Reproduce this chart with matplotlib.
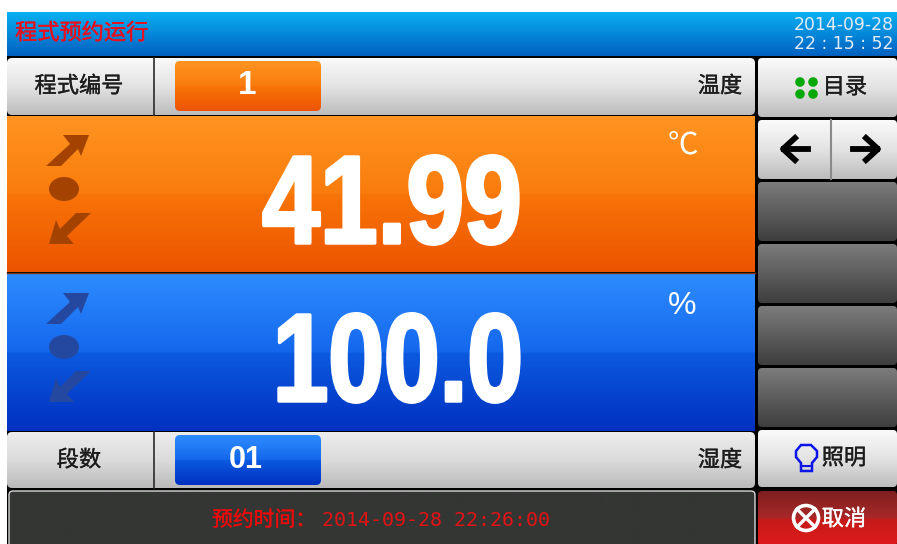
import numpy as np
import matplotlib
matplotlib.use("Agg")
import matplotlib.pyplot as plt
from matplotlib.patches import FancyBboxPatch, Polygon, Ellipse, Circle, Rectangle
from matplotlib.patheffects import AbstractPathEffect, withStroke
from matplotlib.transforms import Affine2D

# screen contents
title = "程式预约运行"
date_now = "2014-09-28"
time_now = "22 : 15 : 52"
prog_label = "程式编号"
prog_no = "1"
temp_label = "温度"
temp_value = "41.99"
temp_unit = "℃"
hum_value = "100.0"
hum_unit = "%"
step_label = "段数"
step_no = "01"
hum_label = "湿度"
book_label = "预约时间："
book_time = "2014-09-28 22:26:00"
menu_label = "目录"
light_label = "照明"
cancel_label = "取消"

cjk = ["Noto Sans CJK SC", "DejaVu Sans"]

fig = plt.figure(figsize=(8.97, 5.44), dpi=100)
ax = fig.add_axes([0, 0, 1, 1])
ax.axis("off")


# the big digits are condensed, squeeze them sideways around the text centre
class Squeeze(AbstractPathEffect):
    def __init__(self, cx, sx, lw):
        super().__init__()
        self.cx = cx
        self.sx = sx
        self.lw = lw

    def draw_path(self, renderer, gc, tpath, affine, rgbFace=None):
        gc0 = renderer.new_gc()
        gc0.copy_properties(gc)
        gc0.set_linewidth(self.lw)
        gc0.set_foreground(rgbFace)
        t = affine + Affine2D().translate(-self.cx, 0).scale(self.sx, 1).translate(self.cx, 0)
        renderer.draw_path(gc0, tpath, t, rgbFace)
        gc0.restore()


def grad(x0, y0, x1, y1, stops, r=0, z=1):
    pos = [s[0] for s in stops]
    cols = np.array([matplotlib.colors.to_rgb(s[1]) for s in stops])
    t = np.linspace(0, 1, 200)
    img = np.stack([np.interp(t, pos, cols[:, i]) for i in range(3)], axis=1)[:, None, :]
    im = ax.imshow(img, extent=(x0, x1, y1, y0), aspect="auto", zorder=z, interpolation="bilinear")
    if r > 0:
        p = FancyBboxPatch((x0 + r, y0 + r), x1 - x0 - 2 * r, y1 - y0 - 2 * r,
                           boxstyle="round,pad=%f,rounding_size=%f" % (r, r),
                           transform=ax.transData, fc="none", ec="none", zorder=z)
        ax.add_patch(p)
        im.set_clip_path(p)


def label(x, y, s, color="#1c1c1c", size=16, ha="center"):
    ax.text(x, y, s, color=color, fontsize=size, family=cjk, ha=ha, va="center", zorder=5,
            path_effects=[withStroke(linewidth=0.25, foreground=color)])


silver = [(0, "#fbfafb"), (0.5, "#e4e3e4"), (1, "#bcbcbc")]
silver2 = [(0, "#eeeded"), (0.5, "#dcdbdb"), (1, "#bababa")]
orange = [(0, "#ff9422"), (0.5, "#f97c0c"), (0.5, "#f87408"), (1, "#ec5400")]
blue = [(0, "#2e8cff"), (0.5, "#1467ec"), (0.5, "#0c5ae0"), (1, "#0030c0")]
dark = [(0, "#7c7c7c"), (1, "#3e3e3e")]
red = [(0, "#7e1f1f"), (0.5, "#a92828"), (0.5, "#c41b1b"), (1, "#e01a1a")]
header = [(0, "#0ab0f2"), (1, "#0060c0")]

ax.add_patch(Rectangle((7, 55), 890, 489, fc="black", ec="none", zorder=0))

# header
grad(7, 12, 897, 56, header)
label(15, 33, title, color="#e8101c", size=16, ha="left")
ax.text(894, 25, date_now, color="#e2ebf6", fontsize=12.4, ha="right", va="center", zorder=5)
ax.text(894, 44, time_now, color="#e2ebf6", fontsize=12.4, ha="right", va="center", zorder=5)

# top and bottom rows
grad(7, 58, 755, 115, silver, r=5)
grad(7, 432, 755, 488, silver2, r=5)
for y0, y1 in [(58, 115), (432, 488)]:
    ax.plot([153.5, 153.5], [y0, y1], color="#2a2a2a", lw=1.2, zorder=3)
grad(175, 61, 321, 111, orange, r=5, z=3)
grad(175, 435, 321, 485, blue, r=5, z=3)
ax.text(247, 86, prog_no, color="white", fontsize=24, fontweight="bold", family="Liberation Sans", ha="center", va="center", zorder=5)
ax.text(246, 460, step_no, color="white", fontsize=22, fontweight="bold", family="Liberation Sans", ha="center", va="center", zorder=5)
label(79, 86, prog_label)
label(79, 460, step_label)
label(720, 86, temp_label)
label(720, 460, hum_label)

# value panels
grad(7, 116, 755, 272, orange)
grad(7, 274, 755, 431, blue)
ax.plot([7, 755], [273, 273], color="#7a3a20", lw=1, zorder=2)
ax.text(392, 243, temp_value, color="white", fontsize=90, fontweight="bold", family="Liberation Sans", ha="center", va="baseline", zorder=5,
        path_effects=[Squeeze(392, 0.83, 2.5)])
ax.text(398, 401, hum_value, color="white", fontsize=90, fontweight="bold", family="Liberation Sans", ha="center", va="baseline", zorder=5,
        path_effects=[Squeeze(398, 0.80, 2.5)])
ax.text(683, 145, temp_unit, color="white", fontsize=22, family=cjk, ha="center", va="center", zorder=5)
ax.text(682, 306, hum_unit, color="white", fontsize=23, family="Liberation Sans", ha="center", va="center", zorder=5)

for dy, col in [(0, "#a44200"), (158, "#24489f")]:
    ax.add_patch(Polygon([(46, 166 + dy), (61, 166 + dy), (78, 149 + dy), (81, 156 + dy), (89, 135 + dy),
                          (63, 135 + dy), (70, 144 + dy)], fc=col, ec="none", zorder=4))
    ax.add_patch(Ellipse((64, 189 + dy), 30, 24, fc=col, ec="none", zorder=4))
    ax.add_patch(Polygon([(91, 213 + dy), (76, 213 + dy), (60, 229 + dy), (56, 220 + dy), (49, 244 + dy),
                          (74, 244 + dy), (67, 236 + dy)], fc=col, ec="none", zorder=4))

# booking bar
grad(9, 491, 755, 546, [(0, "#343634"), (1, "#343634")], r=4)
ax.add_patch(FancyBboxPatch((13, 495), 738, 60, boxstyle="round,pad=4,rounding_size=4", fc="none", ec="#d8d8d8", lw=1, zorder=2))
label(212, 520, book_label, color="#e80c0c", size=15, ha="left")
ax.text(550, 520, book_time, color="#e01414", fontsize=14.4, family="DejaVu Sans Mono", ha="right", va="center", zorder=5)

# right column
grad(758, 58, 897, 117, silver, r=4)
grad(758, 120, 897, 179, silver, r=4)
ax.plot([831, 831], [120, 179], color="#8a8a8a", lw=1.5, zorder=3)
for y0 in [182, 244, 306, 368]:
    grad(758, y0, 897, y0 + 59, dark, r=4)
grad(758, 430, 897, 487, silver, r=4)
grad(758, 491, 897, 546, red, r=4)

for cx in [800, 813]:
    for cy in [82, 94]:
        ax.add_patch(Circle((cx, cy), 4.8, fc="#08a808", ec="none", zorder=5))
label(845, 87, menu_label)

ax.plot([784, 808], [149, 149], color="black", lw=4.2, zorder=5)
ax.plot([795, 783, 795], [138, 149, 160], color="black", lw=4.2, zorder=5)
ax.plot([853, 877], [149, 149], color="black", lw=4.2, zorder=5)
ax.plot([866, 878, 866], [138, 149, 160], color="black", lw=4.2, zorder=5)

ax.add_patch(Polygon([(801, 445), (811, 445), (817, 451), (817, 457), (812, 463), (812, 471), (801, 471), (801, 463),
                      (796, 457), (796, 451)], fc="none", ec="#0c14e8", lw=1.8, zorder=5))
ax.plot([801, 812], [466, 466], color="#0c14e8", lw=1.5, zorder=5)
label(844, 458, light_label)

ax.add_patch(Circle((806, 518), 12.5, fc="none", ec="white", lw=2.6, zorder=5))
ax.plot([797, 815], [509, 527], color="white", lw=2.4, zorder=5)
ax.plot([797, 815], [527, 509], color="white", lw=2.4, zorder=5)
label(844, 519, cancel_label, color="white")

ax.set_xlim(0, 897)
ax.set_ylim(544, 0)
fig.savefig("out.png", dpi=100, facecolor="white")
